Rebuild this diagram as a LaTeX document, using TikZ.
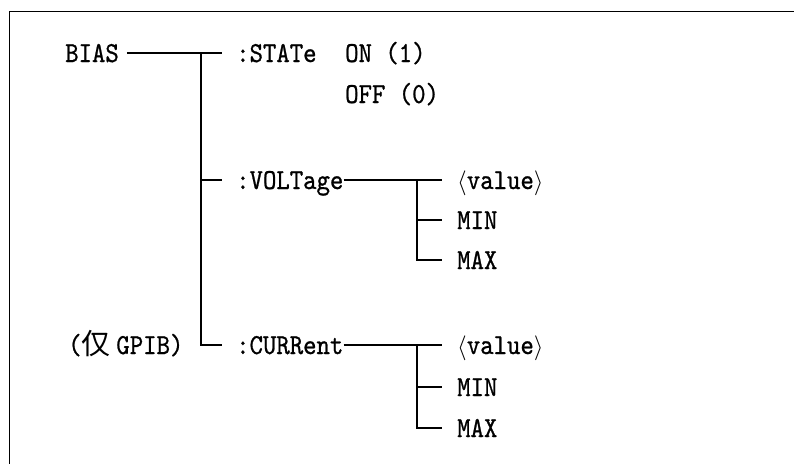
\documentclass[tikz,border=0pt]{standalone}
\usepackage{fontspec}
\newfontfamily\cjk{Noto Sans CJK SC}
\newfontfamily\cmdfont{lmmono10-regular.otf}[FakeStretch=0.88, FakeBold=0.8]
\usetikzlibrary{positioning, calc}
\tikzset{
  cmd/.style={anchor=west, inner sep=0pt, font=\fontsize{29}{29}\selectfont\cmdfont,
              text height=18pt, text depth=0pt},
  wire/.style={line width=1.4pt},
  frameline/.style={line width=1.8pt}
}
\newcommand{\val}{$\langle$value$\rangle$}

\begin{document}
\begin{tikzpicture}[x=1pt, y=-1pt]
  \useasboundingbox (0,0) rectangle (794,464);

  % ----- outer frame (only top and left visible) -----
  \draw[frameline] (794,11.5) -| (9.5,464);

  % ----- root and first level -----
  \node[cmd] (bias) at (65,53) {BIAS};
  \node[cmd] (state) at (236,53) {:STATe};
  \node[cmd] (on) at (345,53) {ON (1)};
  \node[cmd] (off) at (345,94) {OFF (0)};
  \node[cmd] (volt) at (236,180) {:VOLTage};
  \node[cmd] (curr) at (236,345) {:CURRent};
  \node[cmd] (gpib) at (68,345) {({\cjk 仅}\hspace{0.2em}GPIB)};

  % ----- VOLTage parameters -----
  \node[cmd] (vval) at (457,180) {\val};
  \node[cmd] (vmin) at (457,220) {MIN};
  \node[cmd] (vmax) at (457,260) {MAX};

  % ----- CURRent parameters -----
  \node[cmd] (cval) at (457,345) {\val};
  \node[cmd] (cmin) at (457,387) {MIN};
  \node[cmd] (cmax) at (457,428) {MAX};

  % ----- trunk -----
  \coordinate (tr) at (201,53);
  \draw[wire] ([xshift=8]bias.east) -- ([xshift=-14]state.west);
  \draw[wire] (tr) |- ([xshift=-14]curr.west);
  \draw[wire] (tr |- volt) -- ([xshift=-14]volt.west);

  % ----- VOLTage branch -----
  \draw[wire] (volt.east) -- ([xshift=-15]vval.west);
  \draw[wire] ([xshift=-40]vval.west) |- ([xshift=-15]vmax.west);
  \draw[wire] ([xshift=-40]vmin.west) -- ([xshift=-15]vmin.west);

  % ----- CURRent branch -----
  \draw[wire] (curr.east) -- ([xshift=-15]cval.west);
  \draw[wire] ([xshift=-40]cval.west) |- ([xshift=-15]cmax.west);
  \draw[wire] ([xshift=-40]cmin.west) -- ([xshift=-15]cmin.west);
\end{tikzpicture}
\end{document}
